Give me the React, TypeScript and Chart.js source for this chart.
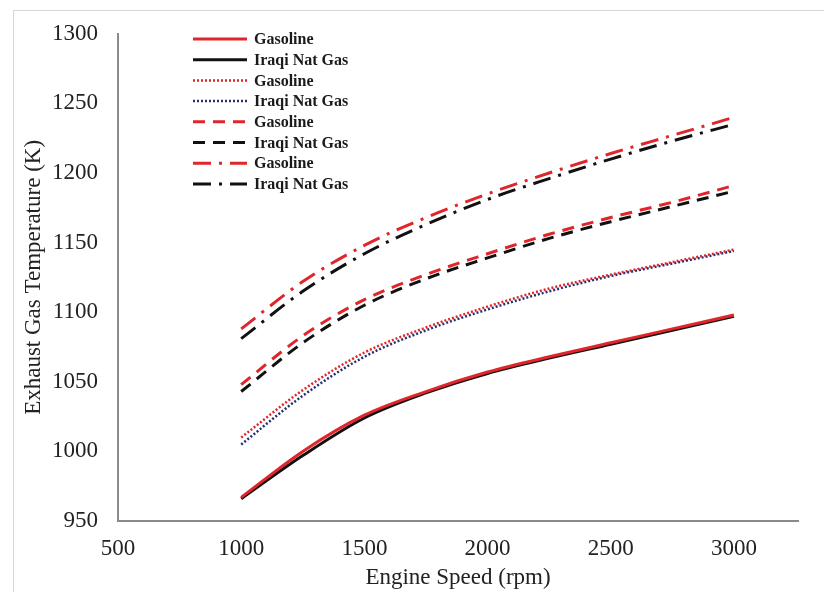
import React, { useEffect, useRef } from "react";
import { Chart, registerables } from "chart.js";

Chart.register(...registerables);

const speeds = [1000, 1250, 1500, 1750, 2000, 2250, 2500, 2750, 3000];

const solidGasoline = [967, 1000, 1026, 1043, 1057, 1068, 1078, 1088, 1098];
const solidNatGas = [966, 997, 1024, 1042, 1056, 1067, 1077, 1087, 1097];
const dottedGasoline = [1010, 1044, 1071, 1089, 1104, 1117, 1127, 1136, 1145];
const dottedNatGas = [1005, 1040, 1068, 1087, 1102, 1115, 1126, 1135, 1144];
const dashedGasoline = [1048, 1083, 1109, 1127, 1142, 1156, 1168, 1179, 1191];
const dashedNatGas = [1043, 1078, 1105, 1124, 1139, 1153, 1165, 1176, 1187];
const dashDotGasoline = [1088, 1122, 1148, 1168, 1185, 1200, 1214, 1227, 1240];
const dashDotNatGas = [1081, 1115, 1142, 1163, 1181, 1196, 1210, 1223, 1235];

const xTicks = [500, 1000, 1500, 2000, 2500, 3000];
const yTicks = [950, 1000, 1050, 1100, 1150, 1200, 1250, 1300];

const labelsLegend = [
  "Gasoline",
  "Iraqi Nat Gas",
  "Gasoline",
  "Iraqi Nat Gas",
  "Gasoline",
  "Iraqi Nat Gas",
  "Gasoline",
  "Iraqi Nat Gas",
];

const RED = "#e0252b";
const BLACK = "#111111";
const NAVY = "#27306e";

const toPts = (ys: number[]) => ys.map((y, i) => ({ x: speeds[i], y }));

const frame = {
  id: "frame",
  beforeDraw(chart: any) {
    const ctx = chart.ctx;
    ctx.save();
    ctx.fillStyle = "#ffffff";
    ctx.fillRect(0, 0, chart.width, chart.height);
    ctx.strokeStyle = "#d6d6d6";
    ctx.lineWidth = 1;
    ctx.strokeRect(13.5, 10.5, 1000, 1000);
    ctx.restore();
  },
};

const insideLegend = {
  id: "insideLegend",
  afterDatasetsDraw(chart: any) {
    const ctx = chart.ctx;
    ctx.save();
    const x0 = 193;
    const x1 = 247;
    const tx = 254;
    const y0 = 39;
    const step = 20.7;
    chart.data.datasets.forEach((ds: any, i: number) => {
      const y = y0 + i * step;
      ctx.beginPath();
      ctx.strokeStyle = ds.borderColor;
      ctx.lineWidth = ds.borderWidth;
      ctx.setLineDash(ds.borderDash || []);
      ctx.moveTo(x0, y);
      ctx.lineTo(x1, y);
      ctx.stroke();
      ctx.setLineDash([]);
      ctx.fillStyle = "#1a1a1a";
      ctx.font = "bold 16px 'Liberation Serif', 'Times New Roman', serif";
      ctx.textBaseline = "middle";
      ctx.textAlign = "left";
      ctx.fillText(ds.label, tx, y + 1);
    });
    ctx.restore();
  },
};

export default function App() {
  const ref = useRef<HTMLCanvasElement | null>(null);

  useEffect(() => {
    if (!ref.current) return;
    const mk = (label: string, data: number[], color: string, dash: number[], width: number) => ({
      label,
      data: toPts(data),
      borderColor: color,
      backgroundColor: color,
      borderDash: dash,
      borderWidth: width,
      pointRadius: 0,
      fill: false,
      cubicInterpolationMode: "monotone" as const,
    });
    const chart = new Chart(ref.current, {
      type: "line",
      data: {
        datasets: [
          mk(labelsLegend[0], solidGasoline, RED, [], 3),
          mk(labelsLegend[1], solidNatGas, BLACK, [], 3),
          mk(labelsLegend[2], dottedGasoline, RED, [2, 2], 2.5),
          mk(labelsLegend[3], dottedNatGas, NAVY, [2, 2], 2.5),
          mk(labelsLegend[4], dashedGasoline, RED, [12, 8], 3),
          mk(labelsLegend[5], dashedNatGas, BLACK, [12, 8], 3),
          mk(labelsLegend[6], dashDotGasoline, RED, [18, 8, 3, 8], 3),
          mk(labelsLegend[7], dashDotNatGas, BLACK, [18, 8, 3, 8], 3),
        ],
      },
      options: {
        responsive: false,
        animation: false,
        layout: { padding: { left: 0, top: 27, right: 26, bottom: 0 } },
        plugins: { legend: { display: false }, tooltip: { enabled: false } },
        scales: {
          x: {
            type: "linear",
            min: 500,
            max: 3260,
            afterFit: (s: any) => {
              s.height = 71;
            },
            afterBuildTicks: (s: any) => {
              s.ticks = xTicks.map((v) => ({ value: v }));
            },
            grid: { display: false, drawTicks: false },
            border: { display: true, color: "#8a8a8a", width: 2 },
            ticks: {
              autoSkip: false,
              maxRotation: 0,
              padding: 14,
              color: "#222",
              callback: (v: any) => String(v),
              font: { family: "'Liberation Serif', serif", size: 23 },
            },
            title: {
              display: true,
              text: "Engine Speed (rpm)",
              color: "#222",
              padding: { top: 0, bottom: 0 },
              font: { family: "'Liberation Serif', serif", size: 23 },
            },
          },
          y: {
            type: "linear",
            min: 950,
            max: 1300,
            afterFit: (s: any) => {
              s.width = 118;
            },
            afterBuildTicks: (s: any) => {
              s.ticks = yTicks.map((v) => ({ value: v }));
            },
            grid: { display: false, drawTicks: false },
            border: { display: true, color: "#8a8a8a", width: 2 },
            ticks: {
              autoSkip: false,
              padding: 20,
              color: "#222",
              callback: (v: any) => String(v),
              font: { family: "'Liberation Serif', serif", size: 23 },
            },
            title: {
              display: true,
              text: "Exhaust Gas Temperature (K)",
              color: "#222",
              padding: { top: 20, bottom: 0 },
              font: { family: "'Liberation Serif', serif", size: 23 },
            },
          },
        },
      },
      plugins: [frame, insideLegend],
    });
    return () => chart.destroy();
  }, []);

  return (
    <div style={{ position: "fixed", left: 0, top: 0, width: 824, height: 592, background: "#fff" }}>
      <canvas ref={ref} width={824} height={592} style={{ display: "block" }} />
    </div>
  );
}
